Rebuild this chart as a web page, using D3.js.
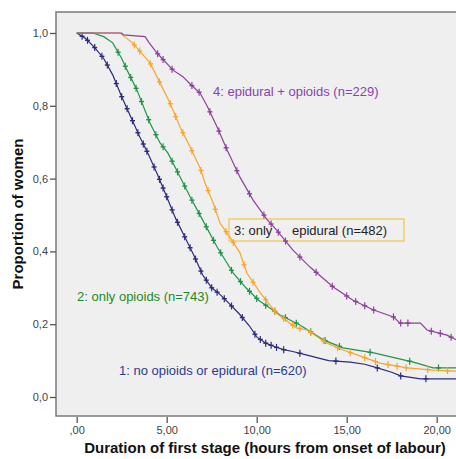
<!DOCTYPE html>
<html><head><meta charset="utf-8">
<script src="https://cdn.jsdelivr.net/npm/d3@7"></script>
<style>
html,body{margin:0;padding:0;background:#fff;}
svg{display:block;font-family:"Liberation Sans",Arial,sans-serif;}
</style></head>
<body><svg id="chart" width="456" height="459"></svg>
<script>
// ---- data (hours, proportion) ----
const xTicks = [0, 5, 10, 15, 20];
const xTickLabels = [",00", "5,00", "10,00", "15,00", "20,00"];
const yTicks = [0, 0.2, 0.4, 0.6, 0.8, 1.0];
const yTickLabels = ["0,0", "0,2", "0,4", "0,6", "0,8", "1,0"];

const groupNames = ["1: no opioids or epidural (n=620)", "2: only opioids (n=743)", "3: only epidural (n=482)", "4: epidural + opioids (n=229)"];

const g1 = [[0,1],[0.5,0.985],[1.0,0.96],[1.5,0.93],[2.0,0.885],[2.5,0.825],[3.0,0.77],[3.5,0.715],[4.0,0.665],[4.5,0.61],[5.0,0.55],[5.5,0.49],[6.0,0.44],[6.5,0.39],[7.0,0.335],[7.5,0.3],[8.0,0.28],[8.5,0.255],[9.0,0.23],[9.6,0.195],[10.0,0.165],[10.5,0.148],[11.0,0.138],[11.5,0.13],[12.0,0.125],[12.8,0.115],[13.5,0.106],[14.0,0.1],[15.2,0.096],[16.0,0.09],[16.7,0.08],[17.5,0.068],[18.0,0.058],[19.1,0.05],[21.5,0.05]];
const g2 = [[0,1],[0.9,1.0],[1.5,0.99],[2.0,0.973],[2.5,0.93],[2.8,0.898],[3.35,0.843],[4.07,0.753],[4.63,0.698],[5.07,0.67],[5.35,0.643],[6.3,0.55],[7.0,0.486],[7.8,0.412],[8.7,0.34],[9.4,0.3],[10.1,0.266],[11.3,0.225],[12.4,0.198],[13.7,0.157],[14.8,0.135],[16.5,0.121],[18.7,0.096],[19.8,0.08],[21.5,0.08]];
const g3 = [[0,1],[2.4,1.0],[3.1,0.973],[4.07,0.918],[4.63,0.863],[5.18,0.808],[5.74,0.742],[6.3,0.687],[6.85,0.63],[7.13,0.588],[7.6,0.53],[7.96,0.478],[8.5,0.44],[9.07,0.396],[9.46,0.34],[10.2,0.286],[11.1,0.23],[12.2,0.19],[12.8,0.184],[13.9,0.148],[14.8,0.129],[15.6,0.115],[16.85,0.093],[18.35,0.08],[19.8,0.074],[21.5,0.07]];
const g4 = [[0,1],[2.5,1.0],[2.6,0.995],[3.8,0.99],[4.0,0.975],[4.46,0.945],[5.35,0.898],[5.9,0.88],[6.3,0.86],[6.85,0.835],[7.24,0.8],[7.8,0.742],[8.35,0.679],[9.07,0.604],[9.8,0.541],[10.6,0.486],[11.1,0.459],[12.0,0.404],[12.96,0.357],[14.25,0.302],[15.35,0.266],[16.5,0.239],[17.6,0.22],[17.96,0.203],[19.1,0.203],[19.46,0.184],[20.57,0.17],[21.1,0.157]];

const c1 = [0.3,0.6,1.0,1.4,1.7,2.2,2.5,2.8,3.1,3.4,3.7,3.9,4.3,4.6,4.8,5.0,5.3,5.6,6.0,6.3,6.6,6.9,7.2,7.5,7.8,8.2,8.6,9.2,9.9,10.2,10.5,10.8,11.1,11.5,12.4,14.4,16.7,18.0,19.4];
const c2 = [2.3,2.7,3.0,3.3,3.6,4.0,4.4,4.8,5.3,5.6,6.0,6.4,6.8,7.2,7.6,8.0,8.6,9.1,9.6,10.0,10.5,11.0,11.6,12.2,13.0,13.8,14.6,16.3,18.5,20.1];
const c3 = [3.2,3.5,4.1,4.6,5.2,5.5,5.9,6.4,6.9,7.3,7.7,8.3,8.7,9.3,9.8,10.5,11.0,11.5,12.0,12.4,13.0,13.7,14.5,15.2,16.0,16.6,17.3,17.8,18.3,19.5,20.6];
const c4 = [4.5,4.8,5.3,6.4,6.8,7.4,7.9,8.3,8.9,9.6,10.4,10.8,11.2,11.6,12.4,13.3,14.2,15.0,15.5,16.0,16.5,17.6,18.0,18.4,19.7,20.2,20.8];

const curves = [g1, g2, g3, g4];
const censors = [c1, c2, c3, c4];
const lineColors = ["#2c2b7c", "#1f9448", "#f7a52c", "#8e3f9e"];
const labelColors = ["#2b3a90", "#1e8a1e", "#222222", "#8a3fb0"];

// ---- layout ----
const svg = d3.select("#chart");
const plot = {left: 56, top: 12, right: 480, bottom: 416};
const x = d3.scaleLinear().domain([0, 20]).range([76.7, 436.7]);
const y = d3.scaleLinear().domain([0, 1]).range([397, 33]);

svg.append("rect").attr("x", plot.left).attr("y", plot.top)
  .attr("width", plot.right - plot.left).attr("height", plot.bottom - plot.top)
  .attr("fill", "#efefef").attr("stroke", "#7a7a7a").attr("stroke-width", 1.5);

// axes
const yAxis = svg.append("g").attr("transform", `translate(${plot.left},0)`)
  .call(d3.axisLeft(y).tickValues(yTicks).tickSize(6).tickPadding(2)
    .tickFormat((d, i) => yTickLabels[i]));
const xAxis = svg.append("g").attr("transform", `translate(0,${plot.bottom + 1})`)
  .call(d3.axisBottom(x).tickValues(xTicks).tickSize(6).tickPadding(3)
    .tickFormat((d, i) => xTickLabels[i]));
[yAxis, xAxis].forEach(a => {
  a.select(".domain").remove();
  a.selectAll("line").attr("stroke", "#555").attr("stroke-width", 1.3);
  a.selectAll("text").attr("fill", "#444").style("font-size", "11px")
    .style("font-family", "'Liberation Sans', Arial, sans-serif");
});

// axis titles
svg.append("text").attr("x", 265).attr("y", 453).attr("text-anchor", "middle")
  .style("font-weight", "bold").style("font-size", "15px").attr("fill", "#111")
  .text("Duration of first stage (hours from onset of labour)");
svg.append("text").attr("transform", "translate(23,214) rotate(-90)").attr("text-anchor", "middle")
  .style("font-weight", "bold").style("font-size", "15px").attr("fill", "#111")
  .text("Proportion of women");

// label box for group 3
svg.append("rect").attr("x", 229).attr("y", 219).attr("width", 175).attr("height", 22)
  .attr("fill", "none").attr("stroke", "#f5c24a").attr("stroke-width", 1.2);

// curves
const clip = svg.append("clipPath").attr("id", "clip").append("rect")
  .attr("x", plot.left).attr("y", plot.top).attr("width", plot.right - plot.left).attr("height", plot.bottom - plot.top);
const gCurves = svg.append("g").attr("clip-path", "url(#clip)");
const line = d3.line().x(d => x(d[0])).y(d => y(d[1])).curve(d3.curveLinear);

function interp(data, t) {
  for (let i = 1; i < data.length; i++) {
    if (t <= data[i][0]) {
      const a = data[i - 1], b = data[i];
      return a[1] + (b[1] - a[1]) * (t - a[0]) / (b[0] - a[0]);
    }
  }
  return data[data.length - 1][1];
}

curves.forEach((data, i) => {
  gCurves.append("path").datum(data).attr("d", line)
    .attr("fill", "none").attr("stroke", lineColors[i]).attr("stroke-width", 1.2);
  const marks = gCurves.append("g");
  censors[i].forEach(t => {
    const cx = x(t), cy = y(interp(data, t));
    marks.append("line").attr("x1", cx).attr("x2", cx).attr("y1", cy - 3.5).attr("y2", cy + 3.5)
      .attr("stroke", lineColors[i]).attr("stroke-width", 1.2);
    marks.append("line").attr("x1", cx - 2.5).attr("x2", cx + 2.5).attr("y1", cy).attr("y2", cy)
      .attr("stroke", lineColors[i]).attr("stroke-width", 1.4);
  });
});

// group labels
const labelFont = "13px";
svg.append("text").attr("x", 119).attr("y", 375).attr("fill", labelColors[0]).style("font-size", labelFont).text(groupNames[0]);
svg.append("text").attr("x", 77).attr("y", 301).attr("fill", labelColors[1]).style("font-size", labelFont).text(groupNames[1]);
const parts3 = groupNames[2].split(" ");
const t3 = svg.append("text").attr("y", 235).attr("fill", labelColors[2]).style("font-size", labelFont);
t3.append("tspan").attr("x", 234).text(parts3[0] + " " + parts3[1]);
t3.append("tspan").attr("x", 292).text(parts3.slice(2).join(" "));
svg.append("text").attr("x", 213).attr("y", 96).attr("fill", labelColors[3]).style("font-size", labelFont).text(groupNames[3]);
</script></body></html>
